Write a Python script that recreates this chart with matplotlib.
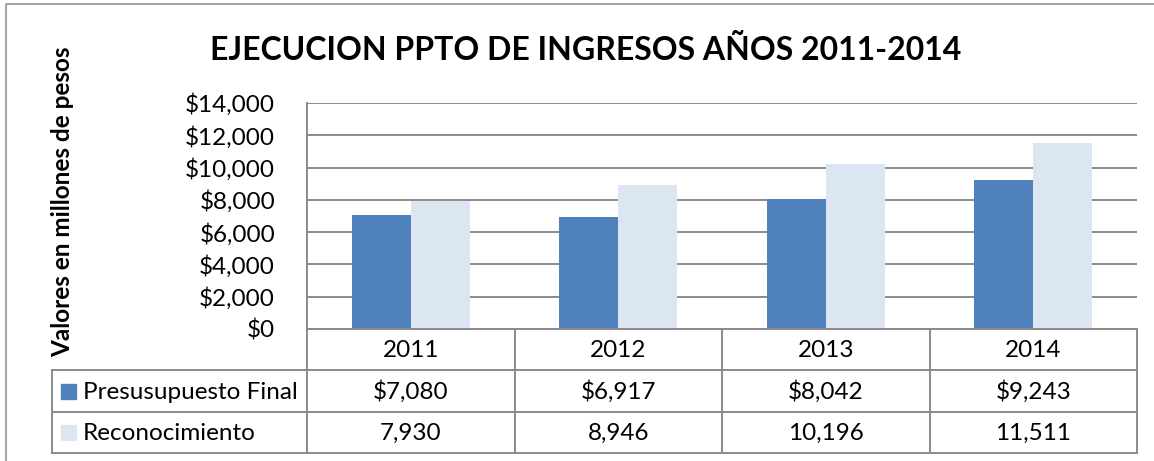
import numpy as np
import matplotlib
matplotlib.use("Agg")
from matplotlib import pyplot as plt
from matplotlib.patches import Rectangle

# data
years = ["2011", "2012", "2013", "2014"]
presupuesto = [7080, 6917, 8042, 9243]
reconocimiento = [7930, 8946, 10196, 11511]
series_names = ["Presusupuesto Final", "Reconocimiento"]
y_ticks = [0, 2000, 4000, 6000, 8000, 10000, 12000, 14000]

blue = "#4F81BD"
light = "#DCE6F2"
grid_c = "#8A8A8A"
font = "Lato"

W, H = 1154, 461
fig = plt.figure(figsize=(W / 100, H / 100), dpi=100)
plt.rcParams["font.family"] = [font, "DejaVu Sans"]


def px_axes(x0, y0, x1, y1):
    return fig.add_axes([x0 / W, 1 - y1 / H, (x1 - x0) / W, (y1 - y0) / H])


fs = 17.5

# plot area
px_left, px_right, px_top, px_bot = 307, 1137, 103, 329
ax = px_axes(px_left, px_top, px_right, px_bot)
x = np.arange(len(years))
bw = 0.285
ax.bar(x - bw / 2, presupuesto, bw, color=blue, zorder=3)
ax.bar(x + bw / 2, reconocimiento, bw, color=light, zorder=3)
ax.set_xlim(-0.5, len(years) - 0.5)
ax.set_ylim(0, 14000)
ax.set_yticks(y_ticks)
ax.set_yticklabels([f"${v:,}" for v in y_ticks], fontsize=fs)
ax.tick_params(axis="y", length=0, pad=23)
ax.set_xticks([])
ax.grid(axis="y", color=grid_c, linewidth=1.4, zorder=0)
for s in ["top", "right", "bottom"]:
    ax.spines[s].set_visible(False)
ax.spines["left"].set_color(grid_c)
ax.spines["left"].set_linewidth(1.4)

# overlay for table, border and titles (pixel coords)
ov = fig.add_axes([0, 0, 1, 1], zorder=5)
ov.set_xlim(0, W)
ov.set_ylim(H, 0)
ov.axis("off")
ov.patch.set_alpha(0)

# outer chart border
ov.plot([6, 6, W], [H, 4.5, 4.5], color="#A6A6A6", lw=1.5, solid_capstyle="butt")

# table
rows = [329, 370, 412, 453]
tab_left = 52
col_w = (px_right - px_left) / len(years)
cols = [px_left + i * col_w for i in range(len(years) + 1)]
lk = dict(color=grid_c, lw=1.4, solid_capstyle="projecting")
ov.plot([px_left, px_right], [rows[0], rows[0]], **lk)
for r in rows[1:]:
    ov.plot([tab_left, px_right], [r, r], **lk)
ov.plot([tab_left, tab_left], [rows[1], rows[3]], **lk)
for c in cols:
    ov.plot([c, c], [rows[0], rows[3]], **lk)

for i, yr in enumerate(years):
    cx = cols[i] + col_w / 2
    ov.text(cx, (rows[0] + rows[1]) / 2 + 1, yr, ha="center", va="center", fontsize=fs)
    ov.text(cx, (rows[1] + rows[2]) / 2 + 1, f"${presupuesto[i]:,}", ha="center", va="center", fontsize=fs)
    ov.text(cx, (rows[2] + rows[3]) / 2 + 1, f"{reconocimiento[i]:,}", ha="center", va="center", fontsize=fs)

for j, (name, col) in enumerate(zip(series_names, [blue, light])):
    yc = (rows[j + 1] + rows[j + 2]) / 2
    ov.add_patch(Rectangle((61, yc - 7.5), 15, 15, color=col))
    ov.text(83, yc + 1, name, ha="left", va="center", fontsize=fs)

# titles
ov.text(586, 50, "EJECUCION PPTO DE INGRESOS AÑOS 2011-2014", ha="center", va="center",
        fontsize=23, fontweight="bold")
ov.text(63, 202, "Valores en millones de pesos", ha="center", va="center",
        rotation=90, fontsize=17.5, fontweight="bold")

fig.savefig("out.png", dpi=100)
